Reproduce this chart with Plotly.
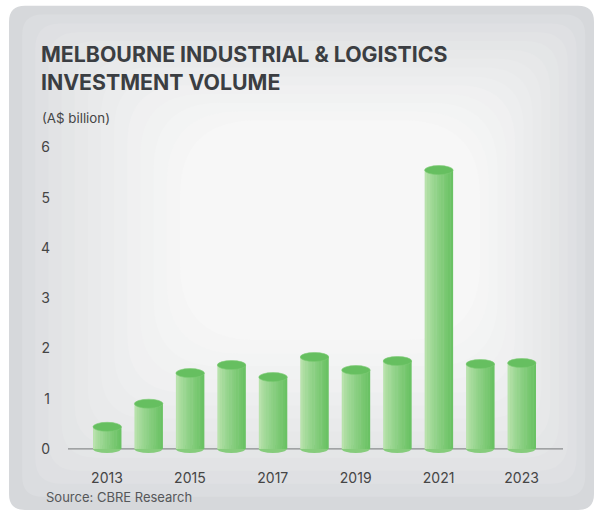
import plotly.graph_objects as go

# ─── DATA ─────────────────────────────────────────────────────
years = [2013, 2014, 2015, 2016, 2017, 2018, 2019, 2020, 2021, 2022, 2023]
volume = [0.44, 0.90, 1.51, 1.67, 1.43, 1.83, 1.57, 1.75, 5.55, 1.69, 1.71]
y_ticks = [0, 1, 2, 3, 4, 5, 6]
x_ticks = [2013, 2015, 2017, 2019, 2021, 2023]

# ─── DESIGN TOKENS ────────────────────────────────────────────
INK = "#3b3e42"
TICK = "#454545"
FONT = "Inter"
W, H = 598, 513
PL, PR, PT, PB = 68, 563, 144.5, 459   # plot area in pixels


def px_x(x):
    return (x - PL) / (PR - PL)


def px_y(y):
    return (PB - y) / (PB - PT)


def rounded_rect(x0, y0, x1, y1, r):
    # path in paper coords from pixel box
    a, b, c, d = px_x(x0), px_x(x1), px_y(y0), px_y(y1)
    rx = r / (PR - PL)
    ry = r / (PB - PT)
    return (f"M{a + rx},{c} L{b - rx},{c} Q{b},{c} {b},{c - ry} "
            f"L{b},{d + ry} Q{b},{d} {b - rx},{d} L{a + rx},{d} "
            f"Q{a},{d} {a},{d + ry} L{a},{c - ry} Q{a},{c} {a + rx},{c} Z")


def mix(c1, c2, t):
    return "#" + "".join(f"{round(c1[i] + (c2[i] - c1[i]) * t):02x}" for i in range(3))


shapes = []

# ─── CARD BACKGROUND (layered to fake a radial gradient) ──────
edge, centre = (214, 216, 219), (247, 247, 247)
card = (9, 5, 594, 510)
cx, cy = 330, 230
steps = 14
for i in range(steps):
    t = i / (steps - 1)
    x0 = card[0] + (cx - 150 - card[0]) * t
    x1 = card[2] - (card[2] - cx - 150) * t
    y0 = card[1] + (cy - 110 - card[1]) * t
    y1 = card[3] - (card[3] - cy - 110) * t
    shapes.append(dict(
        type="path", xref="paper", yref="paper", layer="below",
        path=rounded_rect(x0, y0, x1, y1, 16 + 60 * t),
        fillcolor=mix(edge, centre, t ** 0.7), line=dict(width=0),
    ))

# zero axis line
shapes.append(dict(type="line", xref="paper", yref="y", x0=0, x1=1, y0=0, y1=0,
                   line=dict(color="#8a8c8e", width=1.2), layer="below"))

# ─── CYLINDER BARS ────────────────────────────────────────────
bar_w = 0.675
n_strips = 12
light, dark = (184, 226, 172), (106, 194, 100)
fig = go.Figure()

# bottom bulge of each cylinder (sits under the bar body)
for x, v in zip(years, volume):
    shapes.append(dict(type="circle", xref="x", yref="y",
                       x0=x - bar_w / 2, x1=x + bar_w / 2, y0=-0.08, y1=0.08,
                       fillcolor="#86cc7c", line=dict(width=0), layer="below"))

for i in range(n_strips):
    t = i / (n_strips - 1)
    shade = mix(light, dark, t ** 0.8)
    fig.add_trace(go.Bar(
        x=years, y=volume,
        offset=-bar_w / 2 + i * bar_w / n_strips,
        width=bar_w / n_strips + 0.012,
        marker=dict(color=shade, line=dict(width=0)),
        showlegend=False,
        hovertemplate="%{x}: A$%{y:.2f}bn<extra></extra>",
    ))

# top ellipse of each cylinder
for x, v in zip(years, volume):
    shapes.append(dict(type="circle", xref="x", yref="y",
                       x0=x - bar_w / 2, x1=x + bar_w / 2 + 0.012, y0=v - 0.09, y1=v + 0.09,
                       fillcolor="#66bf60", line=dict(width=0.6, color="#7ccb73")))

fig.update_layout(
    width=W, height=H,
    paper_bgcolor="white",
    plot_bgcolor="rgba(0,0,0,0)",
    margin=dict(l=PL, r=W - PR, t=PT, b=H - PB),
    barmode="overlay",
    font=dict(family=FONT, color=TICK, size=13),
    xaxis=dict(
        range=[2012.06, 2024.0],
        tickvals=x_ticks, ticktext=[str(t) for t in x_ticks],
        showgrid=False, zeroline=False, showline=False, ticks="",
        ticklabelstandoff=9,
        tickfont=dict(size=14, color=TICK),
    ),
    yaxis=dict(
        range=[-0.2, 6.05],
        tickvals=y_ticks,
        showgrid=False, zeroline=False, showline=False, ticks="",
        ticklabelstandoff=17,
        tickfont=dict(size=14, color=TICK),
    ),
    shapes=shapes,
    annotations=[
        dict(text="<b>MELBOURNE INDUSTRIAL &amp; LOGISTICS<br>INVESTMENT VOLUME</b>",
             xref="paper", yref="paper", x=px_x(39), y=px_y(38),
             xanchor="left", yanchor="top", align="left", showarrow=False,
             font=dict(family=FONT, size=21.3, color=INK)),
        dict(text="(A$ billion)", xref="paper", yref="paper",
             x=px_x(40), y=px_y(117), xanchor="left", yanchor="middle",
             showarrow=False, font=dict(family=FONT, size=13.3, color=TICK)),
        dict(text="Source: CBRE Research", xref="paper", yref="paper",
             x=px_x(44), y=px_y(497), xanchor="left", yanchor="middle",
             showarrow=False, font=dict(family=FONT, size=13, color="#555759")),
    ],
)

fig.write_html("out.html", config={"displayModeBar": False},
               post_script="document.body.style.margin='0';")
